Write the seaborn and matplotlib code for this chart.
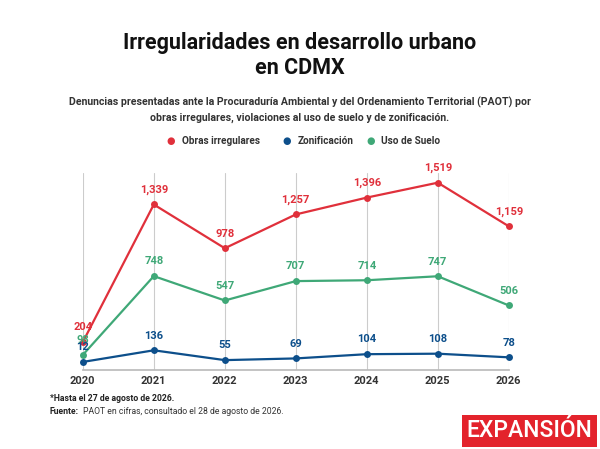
import matplotlib
matplotlib.use("Agg")
import matplotlib.pyplot as plt
import seaborn as sns
import pandas as pd

years = [2020, 2021, 2022, 2023, 2024, 2025, 2026]
obras = [204, 1339, 978, 1257, 1396, 1519, 1159]
zonif = [40, 136, 55, 69, 104, 108, 78]
suelo = [98, 748, 547, 707, 714, 747, 506]
labels_zonif = ["12", "136", "55", "69", "104", "108", "78"]

sns.set_theme(style="white")
plt.rcParams['font.family'] = ['Roboto', 'DejaVu Sans']

df = pd.DataFrame({"year": years * 3,
                   "value": obras + zonif + suelo,
                   "serie": ["Obras irregulares"] * 7 + ["Zonificación"] * 7 + ["Uso de Suelo"] * 7})
pal = {"Obras irregulares": "#e0303b", "Zonificación": "#0d4f8b", "Uso de Suelo": "#3fa877"}

fig = plt.figure(figsize=(6, 4.49), dpi=100)
ax = fig.add_axes([0.138, 0.175, 0.71, 0.44])
sns.lineplot(data=df, x="year", y="value", hue="serie", palette=pal, marker="o",
             markersize=5, markeredgewidth=0, linewidth=1.6, ax=ax, legend=False)
ax.set_xlim(2020, 2026)
ax.set_ylim(-30, 1600)
ax.set_xticks(years)
ax.set_xticklabels([str(y) for y in years], fontsize=8, fontweight="bold", color="#333333")
ax.set_yticks([])
ax.set_xlabel(""); ax.set_ylabel("")
ax.grid(axis="x", color="#cccccc", linewidth=0.8)
for s in ["top", "right", "left"]:
    ax.spines[s].set_visible(False)
ax.spines["bottom"].set_color("#bbbbbb")
ax.tick_params(axis="x", length=0, pad=4)
for c in ax.lines:
    c.set_clip_on(False)

def lab(vals, color, texts=None):
    for i, (x, v) in enumerate(zip(years, vals)):
        t = texts[i] if texts else f"{v:,}"
        ax.annotate(t, (x, v), xytext=(0, 7), textcoords="offset points", ha="center",
                    va="bottom", fontsize=8, fontweight="bold", color=color)
lab(obras, "#e0303b")
lab(suelo, "#3fa877")
lab(zonif, "#0d4f8b", labels_zonif)

fig.text(0.5, 0.876, "Irregularidades en desarrollo urbano\nen CDMX", ha="center", va="center",
         fontsize=15.5, fontweight="bold", color="#111111", linespacing=1.15)
fig.text(0.5, 0.755, "Denuncias presentadas ante la Procuraduría Ambiental y del Ordenamiento Territorial (PAOT) por\n"
         "obras irregulares, violaciones al uso de suelo y de zonificación.", ha="center", va="center",
         fontsize=7.6, fontweight="bold", color="#333333", linespacing=1.5)
lx = [0.285, 0.478, 0.617]
for x, name in zip(lx, pal):
    fig.text(x, 0.685, "●", color=pal[name], fontsize=7, ha="center", va="center")
    fig.text(x + 0.018, 0.685, name, color="#333333", fontsize=7.2, fontweight="bold", va="center")
fig.text(0.083, 0.108, "*Hasta el 27 de agosto de 2026.", fontsize=6.2, fontweight="bold", color="#222222")
fig.text(0.083, 0.078, "Fuente:", fontsize=6.2, fontweight="bold", color="#222222")
fig.text(0.139, 0.078, "PAOT en cifras, consultado el 28 de agosto de 2026.", fontsize=6.2, color="#333333")
fig.text(0.883, 0.015, "EXPANSIÓN", fontsize=16.5, color="white", ha="center", va="bottom",
         fontweight="medium", bbox=dict(boxstyle="square,pad=0.2", fc="#e3232c", ec="none"))
fig.savefig("out.png", dpi=100, facecolor="white")
